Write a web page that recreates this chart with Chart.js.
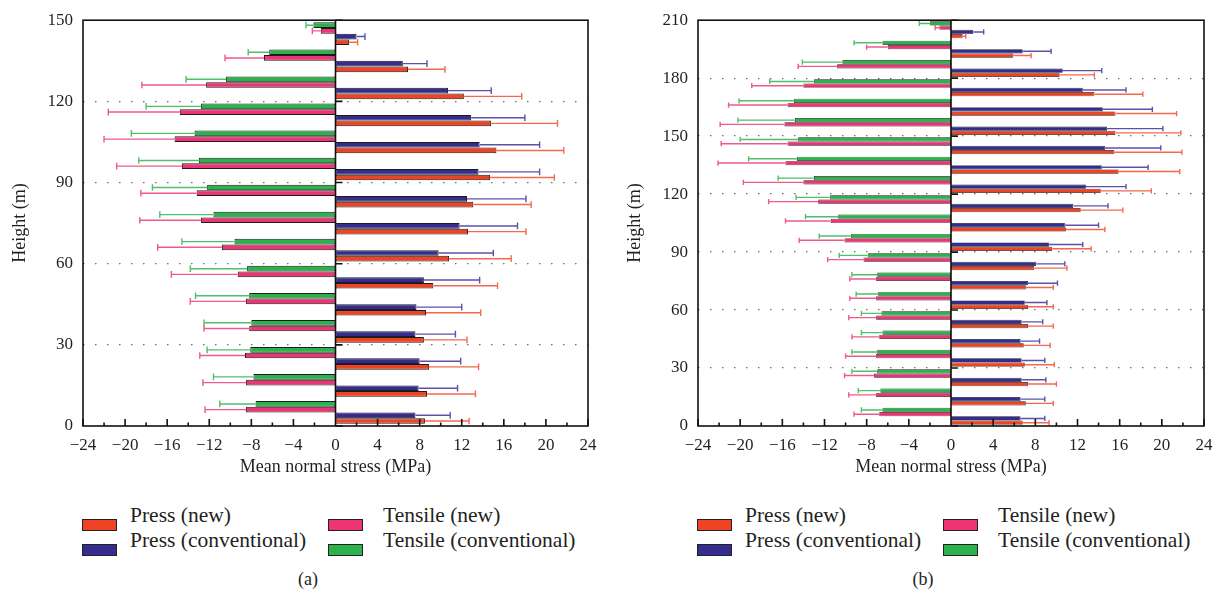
<!DOCTYPE html>
<html>
<head>
<meta charset="utf-8">
<title>Mean normal stress</title>
<script src="https://cdn.jsdelivr.net/npm/chart.js@4.4.0/dist/chart.umd.min.js"></script>
<style>
    body {
        margin: 0;
        width: 1222px;
        height: 597px;
        overflow: hidden;
        background: #fff;
        font-family: "Liberation Serif", "DejaVu Serif", serif;
        color: #231f20;
    }
    .panel { position: absolute; top: 0; height: 597px; }
    .panel canvas { position: absolute; left: 0; top: 0; }
    .legend {
        position: absolute;
        left: 82px;
        top: 503px;
        display: grid;
        grid-template-columns: 246px auto;
        font-size: 21.5px;
    }
    .legend .item { display: flex; height: 25px; line-height: 25px; white-space: nowrap; }
    .legend .box {
        width: 35px;
        height: 12px;
        box-sizing: border-box;
        border: 1.5px solid #222;
        margin-top: 16px;
        margin-right: 13px;
    }
    .legend .item:nth-child(even) .box { margin-right: 20px; }
    .caption {
        position: absolute;
        top: 568px;
        left: 308px;
        transform: translateX(-50%);
        font-size: 18px;
        line-height: 22px;
    }
</style>
</head>
<body>

<div class="panel" style="left:0; width:606px;">
    <canvas id="chartA" width="606" height="480"></canvas>
    <div class="legend" id="legendA"></div>
    <div class="caption">(a)</div>
</div>

<div class="panel" style="left:615px; width:607px;">
    <canvas id="chartB" width="607" height="480"></canvas>
    <div class="legend" id="legendB"></div>
    <div class="caption">(b)</div>
</div>

<script>
// ---- panel (a): height of each 10 m level (centre), bottom to top ----
const levelsA = [5, 15, 25, 35, 45, 55, 65, 75, 85, 95, 105, 115, 125, 135, 145];

const pressNewA      = [8.5, 8.7, 8.9, 8.4, 8.6, 9.3, 10.8, 12.6, 13.1, 14.7, 15.3, 14.8, 12.2, 6.9, 1.3];
const pressNewErrA   = [4.2, 4.6, 4.7, 4.1, 5.2, 6.1, 5.9, 5.5, 5.5, 6.1, 6.4, 6.3, 5.5, 3.5, 0.8];
const pressConvA     = [7.6, 7.9, 8.0, 7.6, 7.7, 8.4, 9.8, 11.8, 12.5, 13.6, 13.7, 12.9, 10.7, 6.4, 2.0];
const pressConvErrA  = [3.3, 3.7, 3.9, 3.8, 4.3, 5.3, 5.2, 5.5, 5.6, 5.8, 5.7, 5.1, 4.1, 2.3, 0.8];
const tensileNewA    = [-8.5, -8.5, -8.6, -8.2, -8.5, -9.3, -10.8, -12.8, -13.2, -14.6, -15.3, -14.8, -12.3, -6.8, -1.4];
const tensileNewErrA = [3.9, 4.1, 4.3, 4.3, 5.3, 6.3, 6.1, 5.8, 5.3, 6.2, 6.7, 6.8, 6.1, 3.7, 0.8];
const tensileConvA    = [-7.6, -7.8, -8.1, -8.0, -8.2, -8.4, -9.6, -11.6, -12.2, -13.0, -13.4, -12.8, -10.4, -6.3, -2.1];
const tensileConvErrA = [3.4, 3.8, 4.1, 4.5, 5.1, 5.4, 5.0, 5.1, 5.2, 5.7, 6.0, 5.2, 3.8, 2.0, 0.7];

// ---- panel (b) ----
const levelsB = [5, 15, 25, 35, 45, 55, 65, 75, 85, 95, 105, 115, 125, 135, 145, 155, 165, 175, 185, 195, 205];

const pressNewB      = [6.8, 7.1, 7.3, 7.0, 6.9, 7.3, 7.3, 7.1, 7.9, 9.6, 10.9, 12.3, 14.2, 15.9, 15.5, 15.6, 15.6, 13.6, 10.3, 5.9, 1.1];
const pressNewErrB   = [2.5, 2.6, 2.7, 2.8, 2.5, 2.4, 2.4, 2.6, 3.1, 3.7, 3.7, 4.0, 4.8, 5.8, 6.4, 6.2, 5.8, 4.6, 3.3, 1.7, 0.3];
const pressConvB     = [6.6, 6.6, 6.7, 6.7, 6.6, 6.7, 7.0, 7.3, 8.1, 9.3, 10.8, 11.6, 12.8, 14.3, 14.6, 14.8, 14.4, 12.5, 10.6, 6.8, 2.1];
const pressConvErrB  = [2.3, 2.3, 2.3, 2.2, 1.8, 2.0, 2.1, 2.8, 2.7, 3.2, 3.2, 3.3, 3.8, 4.4, 5.3, 5.3, 4.7, 4.1, 3.7, 2.7, 1.0];
const tensileNewB    = [-6.8, -7.1, -7.3, -7.1, -6.8, -7.1, -7.1, -7.1, -8.3, -10.1, -11.4, -12.6, -14.0, -15.7, -15.5, -15.8, -15.5, -14.0, -10.8, -6.0, -1.1];
const tensileNewErrB = [2.4, 2.6, 2.8, 2.9, 2.6, 2.6, 2.5, 2.5, 3.4, 4.3, 4.3, 4.7, 5.7, 6.4, 6.3, 6.1, 5.6, 4.9, 3.7, 2.0, 0.4];
const tensileConvB    = [-6.5, -6.7, -7.0, -7.0, -6.5, -6.6, -6.9, -7.0, -7.9, -9.5, -10.7, -11.5, -13.0, -14.6, -14.5, -14.8, -14.9, -13.0, -10.3, -6.5, -2.0];
const tensileConvErrB = [2.0, 2.1, 2.4, 2.4, 2.0, 1.9, 2.1, 2.4, 2.7, 3.0, 3.1, 3.2, 3.4, 4.6, 5.5, 5.4, 5.2, 4.2, 3.8, 2.7, 1.0];

// x axis (MPa) and y axis (m) tick settings
const stressMin = -24, stressMax = 24, stressStep = 4;
const heightStep = 30;

const SERIES_STYLE = {
    pressNew:    { label: 'Press (new)',              color: '#f04323', errorColor: '#f4694d' },
    pressConv:   { label: 'Press (conventional)',     color: '#342c8e', errorColor: '#5b52a8' },
    tensileNew:  { label: 'Tensile (new)',            color: '#ee3574', errorColor: '#f0598c' },
    tensileConv: { label: 'Tensile (conventional)',   color: '#2bb24b', errorColor: '#4fc069' }
};

Chart.defaults.font.family = '"Liberation Serif", "DejaVu Serif", serif';
Chart.defaults.color = '#231f20';

/**
 * Error bars: line from the bar end outwards, with a cap
 */
const errorBarPlugin = {
    id: 'errorBars',
    afterDatasetsDraw(chart) {
        const { ctx } = chart;
        const x = chart.scales.x;
        chart.data.datasets.forEach((ds, i) => {
            const meta = chart.getDatasetMeta(i);
            ctx.save();
            ctx.strokeStyle = ds.errorColor;
            ctx.lineWidth = 1.4;
            meta.data.forEach((bar, j) => {
                const v = ds.data[j];
                const end = x.getPixelForValue(v + Math.sign(v) * ds.errors[j]);
                const half = bar.height / 2 + 0.5;
                ctx.beginPath();
                ctx.moveTo(bar.x, bar.y);
                ctx.lineTo(end, bar.y);
                ctx.moveTo(end, bar.y - half);
                ctx.lineTo(end, bar.y + half);
                ctx.stroke();
            });
            ctx.restore();
        });
    }
};

/**
 * Box frame, zero line and inward tick marks
 */
const framePlugin = {
    id: 'frame',
    afterDraw(chart) {
        const { ctx, chartArea: a } = chart;
        const x = chart.scales.x;
        const y2 = chart.scales.y2;
        const zero = x.getPixelForValue(0);

        ctx.save();
        ctx.strokeStyle = '#111';
        ctx.lineWidth = 1.6;
        ctx.strokeRect(a.left, a.top, a.width, a.height);

        ctx.beginPath();
        ctx.moveTo(zero, a.top);
        ctx.lineTo(zero, a.bottom);

        // long ticks at labels, short ones halfway between
        x.ticks.forEach((t, k) => {
            const px = x.getPixelForValue(t.value);
            ctx.moveTo(px, a.bottom);
            ctx.lineTo(px, a.bottom - 7);
            if (k < x.ticks.length - 1) {
                const mid = x.getPixelForValue((t.value + x.ticks[k + 1].value) / 2);
                ctx.moveTo(mid, a.bottom);
                ctx.lineTo(mid, a.bottom - 3.5);
            }
        });

        // small ticks on the zero line
        y2.ticks.forEach(t => {
            const py = y2.getPixelForValue(t.value);
            ctx.moveTo(zero, py);
            ctx.lineTo(zero + 7, py);
        });
        ctx.stroke();
        ctx.restore();
    }
};

function createStressChart(canvasId, levels, series, heightMax, barOpts) {
    const ctx = document.getElementById(canvasId);
    if (!ctx) return null;

    return new Chart(ctx, {
        type: 'bar',
        data: {
            labels: levels,
            // top to bottom inside each level
            datasets: series.map(s => ({
                label: s.label,
                data: s.values,
                errors: s.errors,
                errorColor: s.errorColor,
                backgroundColor: s.color,
                borderColor: '#1c1c1c',
                borderWidth: barOpts.border,
                borderSkipped: false,
                categoryPercentage: barOpts.category,
                barPercentage: 1.0
            }))
        },
        options: {
            indexAxis: 'y',
            responsive: false,
            animation: false,
            layout: { padding: { top: 14, right: 18, bottom: 0, left: 0 } },
            plugins: {
                legend: { display: false },
                tooltip: { enabled: false }
            },
            scales: {
                x: {
                    type: 'linear',
                    min: stressMin,
                    max: stressMax,
                    grid: { display: false, drawTicks: false },
                    border: { display: false },
                    ticks: {
                        stepSize: stressStep,
                        padding: 9,
                        font: { size: 17 },
                        callback: v => (v < 0 ? '\u2212' + Math.abs(v) : '' + v)
                    },
                    title: {
                        display: true,
                        text: 'Mean normal stress (MPa)',
                        font: { size: 18 },
                        padding: { top: 0, bottom: 2 }
                    },
                    afterFit(scale) { scale.height = 54; }
                },
                y: {
                    type: 'category',
                    reverse: true,
                    display: false
                },
                y2: {
                    type: 'linear',
                    position: 'left',
                    min: 0,
                    max: heightMax,
                    offset: false,
                    grid: {
                        offset: false,
                        drawTicks: false,
                        lineWidth: 1.3,
                        color: c => (c.tick && (c.tick.value === 0 || c.tick.value === heightMax))
                            ? 'rgba(0,0,0,0)' : '#6d6e71'
                    },
                    border: { display: false, dash: [1.5, 10.5] },
                    ticks: {
                        stepSize: heightStep,
                        padding: 10,
                        font: { size: 17 }
                    },
                    title: {
                        display: true,
                        text: 'Height (m)',
                        font: { size: 18 },
                        padding: { top: 9, bottom: 0 }
                    },
                    afterFit(scale) { scale.width = 83; }
                }
            }
        },
        plugins: [errorBarPlugin, framePlugin]
    });
}

function buildLegend(elId) {
    const el = document.getElementById(elId);
    const order = ['pressNew', 'tensileNew', 'pressConv', 'tensileConv'];
    el.innerHTML = order.map(k => {
        const s = SERIES_STYLE[k];
        return '<div class="item"><span class="box" style="background:' + s.color + '"></span>' + s.label + '</div>';
    }).join('');
}

function seriesFor(tc, tcErr, tn, tnErr, pc, pcErr, pn, pnErr) {
    return [
        Object.assign({ values: tc, errors: tcErr }, SERIES_STYLE.tensileConv),
        Object.assign({ values: tn, errors: tnErr }, SERIES_STYLE.tensileNew),
        Object.assign({ values: pc, errors: pcErr }, SERIES_STYLE.pressConv),
        Object.assign({ values: pn, errors: pnErr }, SERIES_STYLE.pressNew)
    ];
}

createStressChart('chartA', levelsA,
    seriesFor(tensileConvA, tensileConvErrA, tensileNewA, tensileNewErrA,
              pressConvA, pressConvErrA, pressNewA, pressNewErrA), 150,
    { border: 1, category: 0.84 });

createStressChart('chartB', levelsB,
    seriesFor(tensileConvB, tensileConvErrB, tensileNewB, tensileNewErrB,
              pressConvB, pressConvErrB, pressNewB, pressNewErrB), 210,
    { border: 0.7, category: 0.88 });

buildLegend('legendA');
buildLegend('legendB');
</script>
</body>
</html>
